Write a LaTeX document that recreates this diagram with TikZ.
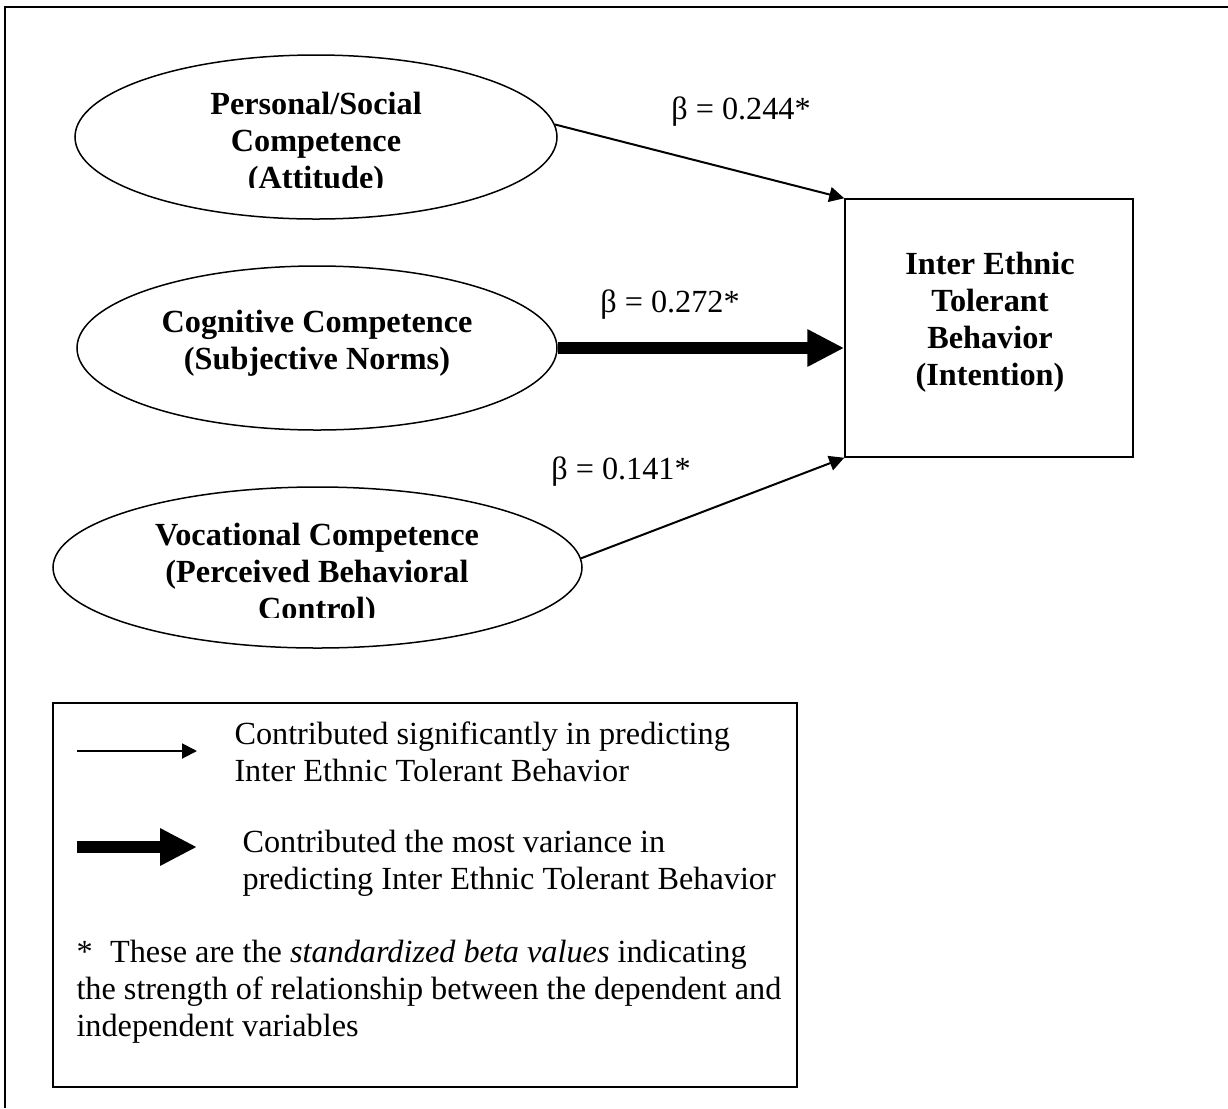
\documentclass[tikz,border=0pt]{standalone}
\usepackage{fontspec}
\setmainfont{Liberation Serif}
\usetikzlibrary{arrows.meta,shapes.geometric}
\def\txt{\fontsize{12.9pt}{14.8pt}\selectfont}

\begin{document}
\begin{tikzpicture}[x=0.4pt, y=-0.4pt, >={Triangle[width=6pt,length=6pt]},
  oval/.style={draw, ellipse, line width=0.6pt, inner sep=0pt, minimum height=65.6pt},
  outcome/.style={draw, rectangle, line width=0.6pt, minimum width=115.2pt, minimum height=103.2pt},
  label/.style={font=\txt\bfseries, align=center, inner sep=0pt},
  beta/.style={font=\txt, inner sep=0pt},
  note/.style={font=\txt, align=left, anchor=west, inner sep=0pt},
  thin/.style={->, line width=0.8pt},
  heavy/.style={-{Triangle[width=14pt,length=14.8pt]}, line width=4.8pt}]
\useasboundingbox (0,0) rectangle (1228,1108);
% frame (open at right and bottom)
\draw[line width=0.7pt] (1228,7) -- (5,7) -- (5,1108);

% predictors and outcome
\draw (316,137) node[oval, minimum width=192.8pt](att){};
\draw (317,348) node[oval, minimum width=192pt](cog){};
\draw (317.5,567.5) node[oval, minimum width=211.6pt, minimum height=64.4pt](voc){};
\draw (989,328) node[outcome](beh){};

% ellipse texts, last lines cut off as in the source
\begin{scope}
\clip (60,40) rectangle (570,187);
\draw (316,144) node[label]{Personal/Social\\Competence\\(Attitude)};
\end{scope}
\draw (317,343) node[label]{Cognitive Competence\\(Subjective Norms)};
\begin{scope}
\clip (60,480) rectangle (590,617);
\draw (317,575) node[label]{Vocational Competence\\(Perceived Behavioral\\Control)};
\end{scope}
\draw (990,322) node[label]{Inter Ethnic\\Tolerant\\Behavior\\(Intention)};

% paths
\path[thin] (att.3) edge (beh.north west);
\draw[heavy] (cog.east) -- (cog.east -| beh.west);
\path[thin] (voc.2) edge (beh.south west);
\draw (741,112) node[beta]{β = 0.244*};
\draw (670,305) node[beta]{β = 0.272*};
\draw (621,472) node[beta]{β = 0.141*};

% legend
\draw[line width=0.7pt] (53,703) rectangle (797,1087);
\coordinate (thinA) at (77,751);
\coordinate (thinB) at (197,751);
\coordinate (heavyA) at (77,847);
\coordinate (heavyB) at (197,847);
\draw[thin] (thinA) -- (thinB);
\draw[heavy] (heavyA) -- (heavyB);
\draw (234,752) node[note]{Contributed significantly in predicting\\Inter Ethnic Tolerant Behavior};
\draw (242,863) node[note]{Contributed the most variance in\\predicting Inter Ethnic Tolerant Behavior};
\draw (76,992) node[note]{*\hspace{7pt}These are the \textit{standardized beta values} indicating\\the strength of relationship between the dependent and\\independent variables};
\end{tikzpicture}
\end{document}
